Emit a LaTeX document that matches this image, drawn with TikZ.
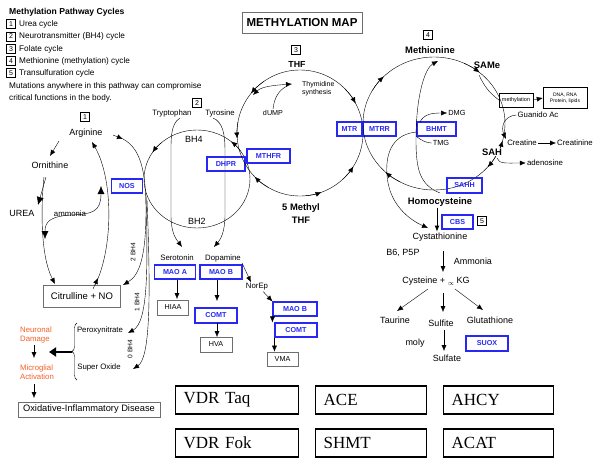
\documentclass[tikz,border=0pt]{standalone}
\usepackage{fontspec}
\setmainfont{Liberation Sans}
\newfontfamily\timesfont{Liberation Serif}
\usepackage{amsmath}
\usepackage{xcolor}
\usepackage{tikz}
\usetikzlibrary{arrows.meta,decorations.pathreplacing,calc}

\definecolor{enzblue}{RGB}{40,40,245}
\definecolor{dmgorange}{RGB}{245,95,40}
\definecolor{boxgray}{RGB}{110,110,110}

\begin{document}
\begin{tikzpicture}[x=1pt,y=-1pt,
	tip/.style={-{Latex[length=6pt,width=5pt]}},
	bigtip/.style={-{Latex[length=8pt,width=7pt]}},
	smalltext/.style={font=\fontsize{7.8}{9}\selectfont, inner sep=1pt},
	chem/.style={font=\fontsize{9}{10}\selectfont, inner sep=1pt},
	chembf/.style={font=\bfseries\fontsize{9.4}{10}\selectfont, inner sep=1pt},
	enz/.style={draw=enzblue, line width=1.1pt, text=enzblue, font=\bfseries\fontsize{7.2}{8}\selectfont, minimum height=14pt, inner sep=1pt},
	prod/.style={draw=boxgray, line width=0.7pt, font=\fontsize{7.2}{8}\selectfont, minimum height=15pt, minimum width=31pt, inner sep=1pt},
	numbox/.style={draw, line width=0.5pt, font=\fontsize{7}{7}\selectfont, minimum size=9pt, inner sep=0pt},
	legend/.style={anchor=west, font=\fontsize{8.2}{9}\selectfont, inner sep=0pt},
	gene/.style={draw, line width=1.3pt, font=\timesfont\fontsize{17}{18}\selectfont, minimum height=28pt, align=left, inner xsep=8pt, anchor=west},
	damage/.style={text=dmgorange, font=\fontsize{7.8}{9}\selectfont, align=left, inner sep=0pt}
]
\useasboundingbox (0,0) rectangle (598,466);

% legend
\node[anchor=west, inner sep=0pt, font=\bfseries\fontsize{8.6}{9}\selectfont] (legtitle) at (9,12) {Methylation Pathway Cycles};
\node[numbox] (leg1n) at (11,24) {1};
\node[legend] (leg1) at (19,24) {Urea cycle};
\node[numbox] (leg2n) at (11,36.5) {2};
\node[legend] (leg2) at (19,36.5) {Neurotransmitter (BH4) cycle};
\node[numbox] (leg3n) at (11,49) {3};
\node[legend] (leg3) at (19,49) {Folate cycle};
\node[numbox] (leg4n) at (11,61) {4};
\node[legend] (leg4) at (19,61) {Methionine (methylation) cycle};
\node[numbox] (leg5n) at (11,73) {5};
\node[legend] (leg5) at (19,73) {Transulfuration cycle};
\node[legend] (mut1) at (9,86) {Mutations anywhere in this pathway can compromise};
\node[legend] (mut2) at (9,98) {critical functions in the body.};

\node[draw=boxgray, line width=0.8pt, font=\bfseries\fontsize{11.5}{12}\selectfont, minimum width=120pt, minimum height=21pt] (title) at (302,23) {METHYLATION MAP};

% urea cycle
\node[numbox] (num1) at (85,117) {1};
\node[chem] (arginine) at (86,133) {Arginine};
\node[chem] (ornithine) at (50,165) {Ornithine};
\node[chem] (urea) at (22,213) {UREA};
\node[draw=boxgray, line width=0.8pt, font=\fontsize{9.5}{10}\selectfont, minimum width=77pt, minimum height=22pt] (citrulline) at (82,296) {Citrulline + NO};
\node[enz, minimum width=31pt] (nos) at (127,186) {NOS};
\node[smalltext] (ammonia) at (70,214) {ammonia};

\draw[tip] (59,141) -- (50,156);
\draw[bigtip] (46,177) -- (38,205);
\draw[tip] (44,177) .. controls (41,205) and (40,255) .. (55,284);
\draw[{Latex[length=8pt,width=7pt]}-{Latex[length=8pt,width=7pt]}] (101,186) .. controls (101,212) and (92,214) .. (72,215) .. controls (50,216) and (45,222) .. (45,239);
\draw[tip] (95,285) .. controls (113,250) and (114,180) .. (92,142);
\draw[tip] (93,289) -- (98,278);

% BH4 branches
\draw[tip] (113,135) -- (123,139);
\draw[tip] (123,139) .. controls (140,148) and (146,170) .. (146,210) .. controls (146,255) and (140,275) .. (123,285);
\draw[tip] (146,195) .. controls (148,270) and (148,322) .. (128,333);
\draw[tip] (147,200) .. controls (151,300) and (150,358) .. (133,369);
\node[smalltext, font=\fontsize{6.6}{7}\selectfont, rotate=90] (bh4two) at (133,252) {2 BH4};
\node[smalltext, font=\fontsize{6.6}{7}\selectfont, rotate=90] (bh4one) at (137,302) {1 BH4};
\node[smalltext, font=\fontsize{6.6}{7}\selectfont, rotate=90] (bh4zero) at (130,349) {0 BH4};

\node[smalltext] (peroxy) at (100,330) {Peroxynitrate};
\node[smalltext] (superox) at (99,367) {Super Oxide};
\draw[decorate, decoration={brace, amplitude=5pt}] (77,380) -- (77,323);
\draw[line width=2.5pt, -{Triangle[length=7pt,width=9pt]}] (72,352) -- (49,352);
\node[damage] (neuronal) at (36,335) {Neuronal\\Damage};
\node[damage] (microglial) at (37,372) {Microglial\\Activation};
\draw[tip] (34,345) -- (34,358);
\draw[tip] (34,384) -- (34,398);
\node[draw=boxgray, line width=0.8pt, font=\fontsize{9.3}{10}\selectfont, minimum width=142pt, minimum height=15pt, inner sep=1pt] (oxid) at (89,409.5) {Oxidative-Inflammatory Disease};

% neurotransmitter cycle
\coordinate (c2) at (197,179);
\draw (c2) ellipse [x radius=53, y radius=49];
\draw[tip] ($(c2)+(228:53 and 49)$) arc[start angle=228, end angle=213, x radius=53, y radius=49];
\draw[tip] ($(c2)+(325:53 and 49)$) arc[start angle=325, end angle=310, x radius=53, y radius=49];
\node[numbox] (num2) at (197,103) {2};
\node[smalltext] (tryptophan) at (172,113) {Tryptophan};
\node[smalltext] (tyrosine) at (220,113) {Tyrosine};
\node[chem] (bh4) at (194,139) {BH4};
\node[chem] (bh2) at (197,221) {BH2};
\draw[tip] (180,118) .. controls (170,124) and (171,140) .. (171,160) -- (171,215) .. controls (171,235) and (177,240) .. (182,247);
\draw[tip] (213,118) .. controls (223,122) and (225,135) .. (225,150) -- (225,215) .. controls (225,233) and (220,240) .. (214,247);
\node[enz, minimum width=38pt] (dhpr) at (226,164) {DHPR};
\node[enz, minimum width=43pt] (mthfr) at (268.5,156) {MTHFR};

\node[smalltext] (serotonin) at (177,258) {Serotonin};
\node[smalltext] (dopamine) at (223,258) {Dopamine};
\node[enz, minimum width=41pt] (maoa) at (175,272) {MAO A};
\node[enz, minimum width=42pt] (maob) at (221,272) {MAO B};
\node[prod] (hiaa) at (173,307.5) {HIAA};
\node[enz, minimum width=42pt, minimum height=15pt] (comt) at (216,315.5) {COMT};
\node[prod, minimum width=32pt] (hva) at (216,344.5) {HVA};
\node[smalltext] (norep) at (257,287) {NorEp};
\node[enz, minimum width=44pt] (maob2) at (295,309) {MAO B};
\node[enz, minimum width=42pt] (comt2) at (296,330) {COMT};
\node[prod, minimum height=14pt] (vma) at (282.5,359) {VMA};
\draw[tip] (177,280) -- (177,299);
\draw[tip] (217,280) -- (217,301);
\draw[tip] (217,323) -- (217,337);
\draw[tip] (dopamine.south east) -- ([xshift=-6pt]norep.north);
\draw[tip] ([xshift=-6pt]norep.south east) -- (maob2.north west);
\draw[tip] (maob2.south west) -- (maob2.south west |- comt2.north);
\draw[tip] (comt2.south west) -- (comt2.south west |- vma.north);

% folate cycle
\coordinate (c3) at (300,133);
\draw (c3) circle[radius=63];
\draw[tip] ($(c3)+(235:63)$) arc[start angle=235, end angle=219, radius=63];
\draw[tip] ($(c3)+(190:63)$) arc[start angle=190, end angle=175, radius=63];
\draw[tip] ($(c3)+(120:63)$) arc[start angle=120, end angle=136, radius=63];
\draw[tip] ($(c3)+(315:63)$) arc[start angle=315, end angle=332, radius=63];
\draw[tip] ($(c3)+(47:63)$) arc[start angle=47, end angle=32, radius=63];
\draw[tip] ($(c3)+(85:63)$) arc[start angle=85, end angle=70, radius=63];
\node[numbox] (num3) at (296,50) {3};
\node[chembf, font=\bfseries\fontsize{8.8}{9}\selectfont] (thf) at (297,64) {THF};
\node[smalltext, font=\fontsize{7}{8}\selectfont, anchor=west, align=left] (thymidine) at (301,89) {Thymidine\\synthesis};
\node[smalltext, font=\fontsize{7.2}{8}\selectfont] (dump) at (273,113) {dUMP};
\draw[{Latex[length=6pt,width=5pt]}-{Latex[length=6pt,width=5pt]}] (253,95) .. controls (262,86) and (278,85) .. (292,84);
\draw (dump.north) .. controls (274,98) and (279,90) .. (287,86);
\node[chembf] (methylthf) at (301,208) {5 Methyl};
\node[chembf] (methylthf2) at (301,220) {THF};
\node[enz, minimum width=25pt] (mtr) at (349.5,129) {MTR};
\node[enz, minimum width=33pt] (mtrr) at (379.5,129) {MTRR};

% methionine cycle
\coordinate (c4) at (434,123.5);
\draw (c4) ellipse [x radius=71, y radius=66.5];
\draw[tip] ($(c4)+(210:71 and 66.5)$) arc[start angle=210, end angle=225, x radius=71, y radius=66.5];
\draw[tip] ($(c4)+(295:71 and 66.5)$) arc[start angle=295, end angle=310, x radius=71, y radius=66.5];
\draw[tip] ($(c4)+(30:71 and 66.5)$) arc[start angle=30, end angle=15, x radius=71, y radius=66.5];
\draw[tip] ($(c4)+(30:71 and 66.5)$) arc[start angle=30, end angle=41, x radius=71, y radius=66.5];
\draw[tip] ($(c4)+(118:71 and 66.5)$) arc[start angle=118, end angle=133, x radius=71, y radius=66.5];
\node[numbox] (num4) at (428,35) {4};
\node[chembf] (methionine) at (430,50) {Methionine};
\node[chembf] (same) at (487,65) {SAMe};
\node[chembf, fill=white] (sah) at (492,152) {SAH};
\node[enz, minimum width=39pt] (bhmt) at (436.5,129) {BHMT};
\node[smalltext, font=\fontsize{7.4}{8}\selectfont] (dmg) at (457,113) {DMG};
\node[smalltext, font=\fontsize{7.4}{8}\selectfont] (tmg) at (441,143) {TMG};
\draw[tip] (440,193) .. controls (420,185) and (416,170) .. (416,140) .. controls (416,95) and (425,68) .. (438,61);
\draw[tip] (420,122) .. controls (424,114) and (432,113) .. (dmg.west);
\draw (bhmt.south west) .. controls (421,140) and (426,143) .. (tmg.west);
\draw[tip] ([yshift=-3pt]bhmt.west) .. controls (395,134) and (385,150) .. (387,175) .. controls (389,205) and (410,220) .. (428,228);
\node[draw, font=\fontsize{5.5}{6}\selectfont, minimum width=34pt, minimum height=14pt, inner sep=1pt] (methyl) at (516,100) {methylation};
\node[draw, font=\fontsize{5}{6}\selectfont, align=center, minimum width=44pt, minimum height=21pt, inner sep=1pt] (dna) at (565,98) {DNA, RNA\\Protein, lipids};
\draw (479,75) .. controls (485,88) and (490,93) .. (methyl.west);
\draw[tip] (methyl.east) -- (dna.west);
\node[smalltext] (guanido) at (538,115) {Guanido Ac};
\node[smalltext] (creatine) at (522,143) {Creatine};
\node[smalltext] (creatinine) at (575,143) {Creatinine};
\node[smalltext] (adenosine) at (545,163) {adenosine};
\draw[tip] (guanido.west) .. controls (503,116) and (501,128) .. (creatine.north west);
\draw[tip] (creatine.east) -- (creatinine.west);
\draw[tip] (497,158) .. controls (499,164) and (505,163) .. (adenosine.west);
\node[enz, minimum width=35pt, minimum height=15pt] (sahh) at (464.5,185.5) {SAHH};
\node[chembf] (homocys) at (440,202) {Homocysteine};

% transsulfuration
\node[enz, minimum width=31pt] (cbs) at (457.5,222) {CBS};
\node[numbox] (num5) at (482,221) {5};
\node[chem] (cysta) at (440,237) {Cystathionine};
\node[chem] (b6) at (403,253) {B6, P5P};
\node[chem] (ammonia2) at (473,261) {Ammonia};
\node[chem] (cyst) at (436,281) {Cysteine + {\raisebox{-2pt}{\scriptsize$\propto$}} KG};
\node[chem] (taurine) at (395,320) {Taurine};
\node[chem] (sulfite) at (441,323) {Sulfite};
\node[chem] (glut) at (490,320) {Glutathione};
\node[chem] (moly) at (415,343) {moly};
\node[chem] (sulfate) at (447,358) {Sulfate};
\node[enz, minimum width=42pt, minimum height=15pt] (suox) at (487,343.5) {SUOX};
\draw[tip, line width=0.8pt] ([xshift=-3pt]homocys.south) -- ([xshift=-3pt]cysta.north);
\draw[tip] (443,251) -- (443,272);
\draw[tip] (428,289) -- (397,311);
\draw[tip] (443,293) -- (443,312);
\draw[tip] (455,289) -- (483,310);
\draw[tip] (444,330) -- (444,351);

% genes
\node[gene, minimum width=123pt, text width=107pt] (vdrtaq) at (175,400) {VDR Taq};
\node[gene, minimum width=111pt, text width=95pt] (ace) at (315,400) {ACE};
\node[gene, minimum width=110pt, text width=94pt] (ahcy) at (443,400) {AHCY};
\node[gene, minimum width=123pt, text width=107pt] (vdrfok) at (175,443) {VDR Fok};
\node[gene, minimum width=111pt, text width=95pt] (shmt) at (315,443) {SHMT};
\node[gene, minimum width=110pt, text width=94pt] (acat) at (443,443) {ACAT};
\end{tikzpicture}
\end{document}
